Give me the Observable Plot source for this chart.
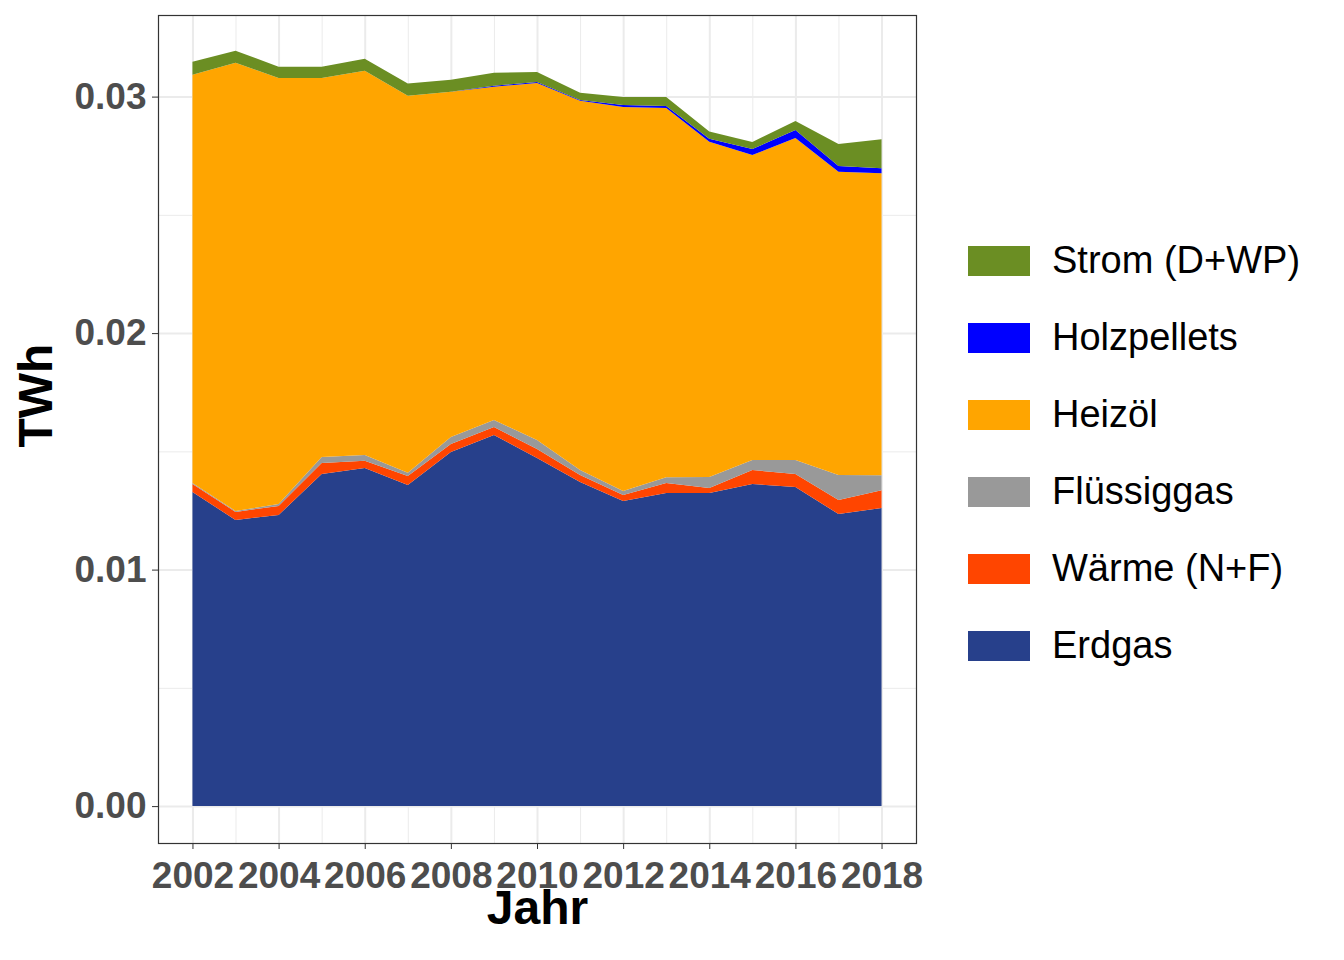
<!DOCTYPE html>
<html><head><meta charset="utf-8">
<script src="https://cdn.jsdelivr.net/npm/d3@7"></script>
<script src="https://cdn.jsdelivr.net/npm/@observablehq/plot@0.6"></script>
<style>
body{margin:0;background:#fff;font-family:"Liberation Sans",Arial,sans-serif;}
#wrap{position:relative;width:1344px;height:960px;}
#legend{position:absolute;left:968px;top:222px;}
.row{display:flex;align-items:center;height:77px;}
.sw{width:62px;height:30px;margin-right:22px;}
.lab{font-size:38px;color:#000;}
</style></head><body>
<div id="wrap"><div id="chart"></div><div id="legend"></div></div>
<script>
const years = d3.range(2002, 2019);
const series = ["Erdgas","Wärme (N+F)","Flüssiggas","Heizöl","Holzpellets","Strom (D+WP)"];
const colors = ["#27408B","#FF4500","#999999","#FFA500","#0000FF","#6B8E23"];
const erdgas = [0.01328,0.01210,0.01231,0.01404,0.01430,0.01358,0.01497,0.01569,0.01472,0.01370,0.01290,0.01324,0.01324,0.01362,0.01349,0.01235,0.01260];
const waerme = [0.00034,0.00034,0.00038,0.00047,0.00030,0.00038,0.00034,0.00034,0.00038,0.00030,0.00025,0.00042,0.00021,0.00059,0.00055,0.00059,0.00076];
const fluessig = [0.00004,0.00004,0.00008,0.00025,0.00025,0.00013,0.00030,0.00030,0.00038,0.00021,0.00017,0.00025,0.00047,0.00042,0.00059,0.00106,0.00063];
const heizoel = [0.01726,0.01895,0.01802,0.01603,0.01624,0.01595,0.01459,0.01409,0.01510,0.01561,0.01624,0.01561,0.01417,0.01290,0.01362,0.01282,0.01277];
const holz = [0,0,0,0,0,0,0,0.00004,0.00004,0.00004,0.00008,0.00008,0.00013,0.00025,0.00034,0.00025,0.00021];
const strom = [0.00055,0.00051,0.00047,0.00047,0.00051,0.00051,0.00051,0.00055,0.00042,0.00030,0.00034,0.00038,0.00030,0.00030,0.00038,0.00093,0.00123];
const xTicks = [2002,2004,2006,2008,2010,2012,2014,2016,2018];
const yTicks = [0,0.01,0.02,0.03];

const vals = [erdgas,waerme,fluessig,heizoel,holz,strom];
const data = [];
series.forEach((s,i)=>years.forEach((y,j)=>data.push({Jahr:y,Typ:s,TWh:vals[i][j]})));

const chart = Plot.plot({
  width:950, height:960,
  marginLeft:158, marginRight:34, marginTop:15, marginBottom:117,
  style:{fontFamily:"Liberation Sans, Arial, sans-serif", background:"transparent", overflow:"visible"},
  x:{domain:[2001.2,2018.8], ticks:xTicks, tickFormat:d=>String(d), tickSize:6, label:null},
  y:{domain:[-0.00156,0.03345], ticks:yTicks, tickFormat:d3.format(".2f"), tickSize:6, label:null},
  color:{domain:series, range:colors},
  marks:[
    Plot.ruleX(d3.range(2003,2019,2),{stroke:"#ebebeb",strokeWidth:1}),
    Plot.ruleY([0.005,0.015,0.025],{stroke:"#ebebeb",strokeWidth:1}),
    Plot.ruleX(xTicks,{stroke:"#ebebeb",strokeWidth:2}),
    Plot.ruleY(yTicks,{stroke:"#ebebeb",strokeWidth:2}),
    Plot.areaY(data, Plot.stackY({order:series},{x:"Jahr",y:"TWh",z:"Typ",fill:"Typ"})),
    Plot.axisX({ticks:xTicks,tickFormat:d=>String(d),fontSize:37,fontWeight:"bold",fill:"#4d4d4d",stroke:"#333",tickSize:6,tickPadding:12,label:null}),
    Plot.axisY({ticks:yTicks,tickFormat:d3.format(".2f"),fontSize:37,fontWeight:"bold",fill:"#4d4d4d",stroke:"#333",tickSize:6,tickPadding:6,label:null}),
    Plot.frame({stroke:"#333",strokeWidth:1.2}),
    Plot.text(["Jahr"],{frameAnchor:"bottom",dy:80,fontSize:48,fontWeight:"bold",fill:"#000"}),
    Plot.text(["TWh"],{frameAnchor:"left",dx:-122,dy:18,rotate:-90,fontSize:48,fontWeight:"bold",fill:"#000"})
  ]
});
document.getElementById("chart").appendChild(chart);
const leg = document.getElementById("legend");
series.slice().reverse().forEach((s)=>{
  const c = colors[series.indexOf(s)];
  const r = document.createElement("div"); r.className="row";
  r.innerHTML = `<div class="sw" style="background:${c}"></div><div class="lab">${s}</div>`;
  leg.appendChild(r);
});
</script></body></html>
